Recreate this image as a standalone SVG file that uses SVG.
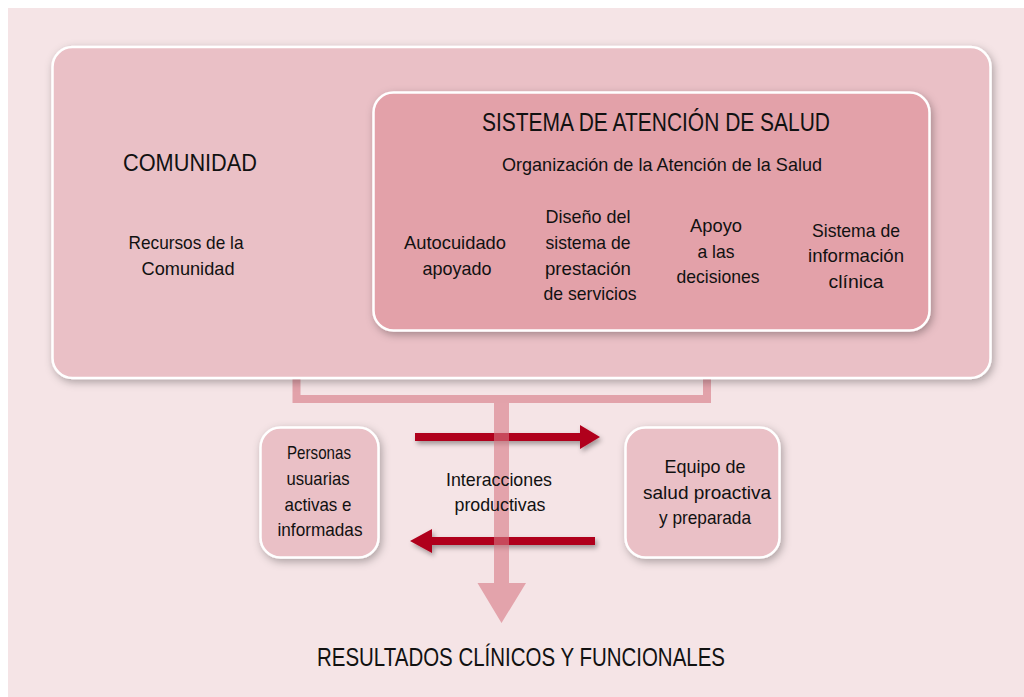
<svg xmlns="http://www.w3.org/2000/svg" width="1024" height="697" viewBox="0 0 1024 697">
<style>
text{font-family:"Liberation Sans",Arial,sans-serif;fill:#111;text-anchor:middle}
.b{font-size:19px}
.t{font-size:25px}
.c{font-size:23px}
.box{stroke:#fff;stroke-width:2.5}
.red{fill:#b0061e}
</style>
<defs>
<filter id="sh" x="-10%" y="-10%" width="125%" height="130%">
<feDropShadow dx="2" dy="3" stdDeviation="4" flood-color="#000" flood-opacity="0.3"/>
</filter>
<filter id="sh2" x="-10%" y="-50%" width="125%" height="220%">
<feDropShadow dx="2" dy="3" stdDeviation="2.5" flood-color="#000" flood-opacity="0.35"/>
</filter>
</defs>
<rect x="8" y="8" width="1016" height="689" fill="#f5e4e6"/>
<g id="connectors">
<path d="M296.5 370 V399 H707 V370" fill="none" stroke="#e2a2aa" stroke-width="8"/>
<g filter="url(#sh2)">
<path class="red" d="M415 433 H580 V425 L600 437 L580 449 V441 H415 Z"/>
<path class="red" d="M595 537 H432 V529 L410 541 L432 553 V545 H595 Z"/>
</g>
<path d="M494 403 H509 V583 H526 L501.5 623 L477.5 583 H494 Z" fill="#d77884" fill-opacity="0.6"/>
</g>
<g id="comunidad">
<rect class="box" x="52.5" y="47" width="938" height="331" rx="20" fill="#eac0c6" filter="url(#sh)"/>
<text class="c" x="190" y="171" textLength="134" lengthAdjust="spacingAndGlyphs">COMUNIDAD</text>
<text class="b" x="186" y="249" textLength="115" lengthAdjust="spacingAndGlyphs">Recursos de la</text>
<text class="b" x="188" y="275" textLength="93" lengthAdjust="spacingAndGlyphs">Comunidad</text>
</g>
<g id="sistema">
<rect class="box" x="373.5" y="92.5" width="556" height="238" rx="20" fill="#e3a1a9" filter="url(#sh)"/>
<text class="t" x="656" y="131" textLength="348" lengthAdjust="spacingAndGlyphs">SISTEMA DE ATENCIÓN DE SALUD</text>
<text class="b" x="662" y="171" textLength="320" lengthAdjust="spacingAndGlyphs">Organización de la Atención de la Salud</text>
<g id="autocuidado">
<text class="b" x="455" y="249" textLength="102" lengthAdjust="spacingAndGlyphs">Autocuidado</text>
<text class="b" x="457" y="275" textLength="69" lengthAdjust="spacingAndGlyphs">apoyado</text>
</g>
<g id="diseno">
<text class="b" x="588" y="223" textLength="85" lengthAdjust="spacingAndGlyphs">Diseño del</text>
<text class="b" x="588" y="249" textLength="85" lengthAdjust="spacingAndGlyphs">sistema de</text>
<text class="b" x="588" y="275" textLength="86" lengthAdjust="spacingAndGlyphs">prestación</text>
<text class="b" x="590" y="300" textLength="93" lengthAdjust="spacingAndGlyphs">de servicios</text>
</g>
<g id="apoyo">
<text class="b" x="716" y="232" textLength="52" lengthAdjust="spacingAndGlyphs">Apoyo</text>
<text class="b" x="716" y="258" textLength="37" lengthAdjust="spacingAndGlyphs">a las</text>
<text class="b" x="718" y="283" textLength="83" lengthAdjust="spacingAndGlyphs">decisiones</text>
</g>
<g id="sistema-info">
<text class="b" x="856" y="237" textLength="88" lengthAdjust="spacingAndGlyphs">Sistema de</text>
<text class="b" x="856" y="262" textLength="96" lengthAdjust="spacingAndGlyphs">información</text>
<text class="b" x="856" y="288" textLength="55" lengthAdjust="spacingAndGlyphs">clínica</text>
</g>
</g>
<g id="personas">
<rect class="box" x="260.5" y="427.5" width="118" height="130" rx="20" fill="#eac0c6" filter="url(#sh)"/>
<text class="b" x="319" y="459" textLength="64" lengthAdjust="spacingAndGlyphs">Personas</text>
<text class="b" x="318" y="485" textLength="63" lengthAdjust="spacingAndGlyphs">usuarias</text>
<text class="b" x="318" y="511" textLength="67" lengthAdjust="spacingAndGlyphs">activas e</text>
<text class="b" x="320" y="536" textLength="85" lengthAdjust="spacingAndGlyphs">informadas</text>
</g>
<g id="interacciones">
<text class="b" x="499" y="486" textLength="106" lengthAdjust="spacingAndGlyphs">Interacciones</text>
<text class="b" x="500" y="511" textLength="91" lengthAdjust="spacingAndGlyphs">productivas</text>
</g>
<g id="equipo">
<rect class="box" x="625.5" y="427.5" width="154" height="130" rx="20" fill="#eac0c6" filter="url(#sh)"/>
<text class="b" x="705" y="473" textLength="81" lengthAdjust="spacingAndGlyphs">Equipo de</text>
<text class="b" x="707" y="499" textLength="128" lengthAdjust="spacingAndGlyphs">salud proactiva</text>
<text class="b" x="705" y="524" textLength="92" lengthAdjust="spacingAndGlyphs">y preparada</text>
</g>
<g id="resultados">
<text class="t" x="521" y="666" textLength="408" lengthAdjust="spacingAndGlyphs">RESULTADOS CLÍNICOS Y FUNCIONALES</text>
</g>
</svg>
